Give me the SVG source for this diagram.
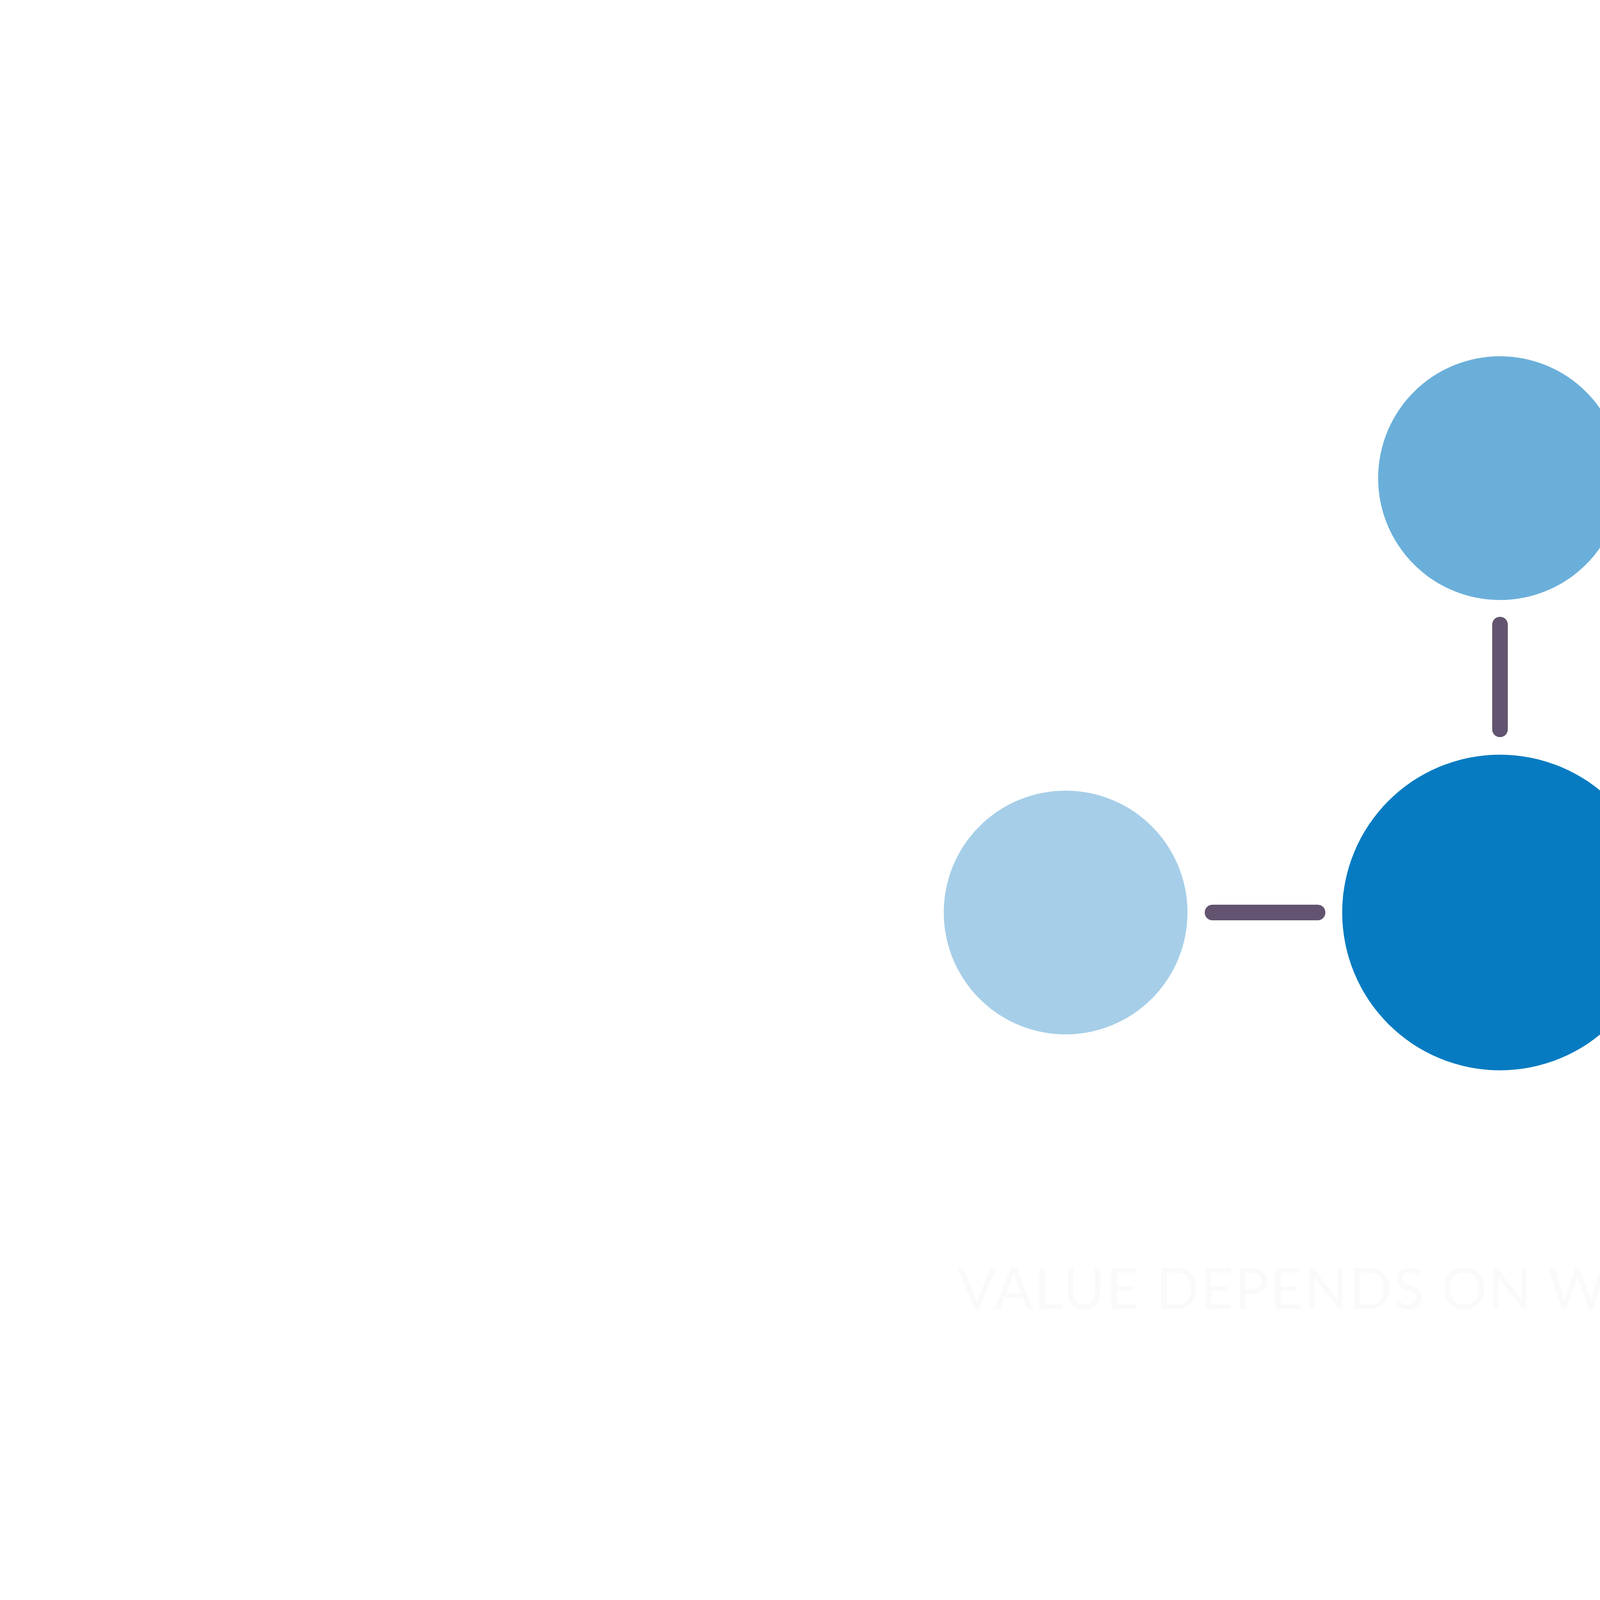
<svg xmlns="http://www.w3.org/2000/svg" width="7680" height="4320" viewBox="0 0 7680 4320">
  <style>
    .link { stroke: #625470; stroke-width: 40; stroke-linecap: round; fill: none; }
    .caption { font-family: Lato, "Liberation Sans", Arial, sans-serif; font-size: 146px; letter-spacing: 3px; fill: #fafafa; text-anchor: middle; }
  </style>
  <rect x="0" y="0" width="7680" height="4320" fill="#ffffff"/>
  <g id="connectors">
    <line class="link" x1="3840" y1="1599" x2="3840" y2="1867"/>
    <line class="link" x1="3104" y1="2336" x2="3373" y2="2336"/>
    <line class="link" x1="4308" y1="2336" x2="4577" y2="2336"/>
  </g>
  <g id="node-top">
    <circle cx="3840" cy="1224" r="312" fill="#6aafda"/>
  </g>
  <g id="node-left">
    <circle cx="2728" cy="2336" r="312" fill="#a6cee8"/>
  </g>
  <g id="node-right">
    <circle cx="4952" cy="2336" r="312" fill="#dbebf6"/>
  </g>
  <g id="node-center">
    <circle cx="3840" cy="2336" r="404" fill="#077bc1"/>
  </g>
  <g id="caption">
    <text class="caption" x="3838" y="3351">VALUE DEPENDS ON WHO'S LOOKING.</text>
  </g>
</svg>
